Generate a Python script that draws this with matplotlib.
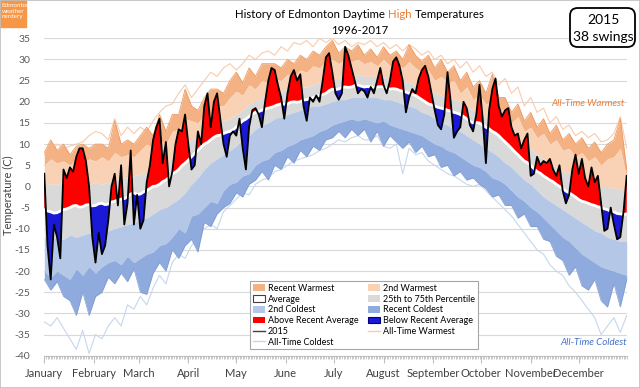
import numpy as np
import matplotlib.pyplot as plt
from matplotlib.patches import Patch, Rectangle, FancyBboxPatch
from matplotlib.lines import Line2D

plt.rcParams['font.family'] = ['Lato', 'DejaVu Sans']

# bands, read every 4th day of the year (day 1, 5, 9, ... 365)
days4 = np.arange(1, 366, 4)
rec_warm = [8, 11, 8.5, 10, 7.5, 9.5, 10, 9, 10,
            10, 9, 15.5, 10, 11, 10, 12, 14, 12, 17, 13, 17, 17,
            23,
            19, 18, 21, 23, 23, 22, 25, 27, 24.5, 28, 26, 29, 29, 29, 28, 30, 29, 31, 30, 32, 31, 33,
            34.5, 31.5, 33, 32, 33.5, 31, 32.5, 30.5, 33, 31, 32, 30, 33.5, 31, 29.5, 31, 28, 30, 27, 28.5, 25, 27, 23.5,
            25, 22, 26.5, 21, 21, 17.5, 19.5, 15.5, 17.5, 14, 16, 12.5, 14.5, 11, 12.5, 10, 11.5, 9, 10.5, 8, 10, 11, 16, 4]
warm2 = [5, 6.5, 5.5, 6, 5, 6.5, 5.5, 6.5, 6,
         7, 6, 8, 7, 7.5, 7, 8.5, 10, 9, 11, 10, 13, 13.5,
         16,
         15.5, 15, 17, 17, 19, 19, 21, 22.5, 21.5, 24, 23, 25, 24.5, 25.5, 25, 26.5, 26, 27.5, 27, 28.5, 28, 29.5,
         30, 29, 30, 29.5, 30, 29, 29.5, 28.5, 30, 28.5, 29, 28, 29.5, 28, 27, 27.5, 25, 26, 24.5, 25, 22, 23.5, 20.5,
         21.5, 19.5, 20, 17.5, 18.5, 15, 16.5, 13, 14, 11.5, 12.5, 10, 11, 8.5, 9, 7, 8, 6, 7, 5, 6.5, 7, 9, 2]
p75 = [1, 0.5, 0.5, 1, 0, 0.5, 0, 0.5, 1,
       0.5, 1, 1.5, 2, 2, 2.5, 3, 3, 4, 4.5, 5, 7, 8,
       9.5,
       11, 12, 13, 14, 15, 15.5, 16, 17, 18, 19.5, 20, 21, 21.5, 22, 22.5, 23, 23, 23.5, 23.5, 24, 24.5, 25,
       25.5, 25.5, 26, 26, 26.5, 26, 26, 26, 26, 25.5, 25.5, 25, 24.5, 24, 23.5, 23, 22, 21.5, 21, 20.5, 20, 19, 18,
       17.5, 16.5, 16, 15, 13.5, 12.5, 11, 10, 9, 7.5, 6.5, 5.5, 4.5, 3.5, 3, 2, 1.5, 1, 0.5, 0, 0, -0.5, -0.5, -1]
p25 = [-12, -12.5, -12, -12.5, -11.5, -12, -11.5, -11, -11,
       -10.5, -10.5, -10, -9.5, -9, -8.5, -8, -7.5, -6.5, -5.5, -5, -4, -3,
       -1.5,
       0.5, 2, 4, 5.5, 6.5, 7.5, 8.5, 9.5, 11, 12, 13.5, 14.5, 15, 16, 16.5, 17, 17.5, 18, 18.5, 19, 19, 19.5,
       20, 20.5, 20.5, 21, 21, 21, 21, 21, 20.5, 20.5, 20, 19.5, 19, 18.5, 17.5, 17, 16, 15, 14.5, 13.5, 13, 12, 11,
       10, 9, 8, 7, 5.5, 4.5, 3, 1.5, 0.5, -1, -2.5, -3.5, -4.5, -5.5, -6.5, -7.5, -8.5, -9.5, -10.5, -11, -12, -12.5, -13, -13]
cold2 = [-20, -21.5, -20, -21, -22, -19.5, -21, -19, -20.5,
         -19, -18, -17.5, -18.5, -16.5, -18, -17, -16, -15.5, -14, -13.5, -12, -10,
         -11,
         -7, -6.5, -5, -3.5, -4, -1, 0.5, 1, 2.5, 3, 5, 6, 6.5, 8, 8.5, 9.5, 10, 11, 11.5, 12, 13, 13.5,
         14.5, 15, 15.5, 16, 15.5, 16, 15.5, 15, 15.5, 14.5, 14, 13.5, 13, 12.5, 12, 11, 10, 9.5, 8.5, 8, 7, 6, 5,
         4.5, 3.5, 2, 1.5, 0.5, -1, -2.5, -3.5, -5, -6, -7.5, -9, -10.5, -12, -13, -14.5, -16, -17, -18, -19, -19.5, -20, -20.5, -21]
rec_cold = [-22, -24.5, -22.5, -26, -27, -30.5, -25, -30.5, -26,
            -25, -21.5, -23, -20.5, -22.5, -19.5, -25, -25.5, -20.5, -18, -20, -15, -17,
            -14,
            -12.5, -15.5, -8.5, -9.5, -6.5, -5, -4, -1.5, -2.5, 0.5, 1.5, 3.5, 1.5, 5, 4, 7, 5.5, 8.5, 7, 9.5, 8.5, 11,
            11.5, 13, 11.5, 13.5, 12, 13.5, 10.5, 13, 9.5, 12, 10.5, 9, 10.5, 8, 9.5, 7, 7.5, 4.5, 5, 2.5, 3.5, 1.5, 2,
            0.5, -0.5, -2.5, -2, -4.5, -4.5, -7.5, -6.5, -9.5, -9.5, -12.5, -13, -16.5, -17.5, -21, -19, -23.5, -24.5, -22, -27, -28.5, -23, -28.5, -22]
at_warm = [7.5, 8, 10, 9, 9.5, 10, 10.5, 12, 13,
           12.5, 11, 16, 12, 14, 12.5, 14, 13, 15.5, 17.5, 19, 19.5, 22,
           24,
           21, 23, 25, 27, 26, 28, 29, 27.5, 29, 31, 30, 31.5, 32, 31, 33, 32, 34, 33.5, 34.5, 33, 35, 34,
           35, 33.5, 34.5, 33, 34, 33.5, 34.5, 33, 34, 32.5, 33.5, 32, 33.5, 32.5, 31, 32, 30, 31, 29, 30, 28, 29.5, 27,
           28.5, 26, 27, 24, 25.5, 22, 23.5, 19, 21, 17.5, 18.5, 15, 16.5, 13.5, 14.5, 12, 13, 11.5, 12.5, 10.5, 11, 12.5, 16.5, 9]
at_cold = [-32, -33, -31, -33.5, -36, -38.5, -34, -39.5, -35,
           -36, -33, -31, -33, -28, -29, -26, -28, -24, -21, -23, -18, -16,
           -17,
           -14, -12, -10, -9, -10, -6, -4.5, -3, -1.5, -2, 0.5, 1.5, 2, 3.5, 4, 5, 6, 6.5, 7, 7.5, 8.5, 9,
           10, 11, 10.5, 11.5, 12, 11, 11, 12, 9.5, 9, 10, 3, 9, 7.5, 8, 6, 5, 4, 3, 2.5, 1.5, 0.5, 0,
           0.5, -1, -2.5, -4, -5.5, -7, -9, -11, -13, -15, -16, -18.5, -20, -21, -23.5, -25, -27, -29, -31, -35, -33, -31, -34.5, -30.5]

# average and 2015, read every 2nd day (day 1, 3, 5, ... 365)
days2 = np.arange(1, 366, 2)
avg = [-5.5, -5.8, -6, -6.3, -6.2, -5.8, -5.5, -5.3, -5, -4.6, -4.5, -4.9, -4.8, -4.4, -4.3,
       -4.6, -4.5, -4.1, -4, -4.3, -4.2, -3.7, -3.5, -3.2, -3, -2.9, -2.5, -1.8, -1.5, -1.9,
       -1.8, -1.3, -1, -0.5, 0, 0.1, 0.5, 1.1, 1.5, 2.1, 3, 3.4, 4, 4.9, 5.5,
       6.2, 7, 7.8, 8.5, 9.3, 10, 10.4, 11, 11.6, 12, 12.1, 12.5, 12.8, 13, 13.4,
       14, 14.8, 15.5, 15.9, 16.5, 17.1, 17.5, 17.7, 18, 18.3, 18.5, 18.7, 19, 19.3, 19.5,
       19.4, 19.5, 19.9, 20, 19.9, 20, 20.4, 20.5, 20.7, 21, 21.3, 21.5, 21.7, 22, 22.6,
       23, 22.9, 23, 23.4, 23.5, 23.4, 23.5, 23.8, 24, 23.7, 23.5, 23.6, 23.5, 23.4, 23.5,
       23.6, 23.5, 23.2, 23, 23.1, 23, 22.7, 22.5, 22.3, 22, 21.8, 21.5, 21, 20.5, 20,
       19.5, 19.3, 19, 18.7, 18.5, 18.3, 18, 17.8, 17.5, 17.3, 17, 16.5, 16, 15.4, 15,
       15.1, 15, 14.4, 14, 13.6, 13, 12.6, 12, 11.2, 10.5, 9.8, 9, 8.2, 7.5, 6.7,
       6, 5.6, 5, 4.2, 3.5, 3.1, 2.5, 2, 1.5, 1.1, 0.5, 0, -0.5, -1.1, -1.5,
       -2, -2.5, -3.1, -3.5, -3.7, -4, -4.3, -4.5, -4.8, -5, -5.3, -5.5, -5.9, -6, -6.4,
       -6.5, -6.6, -6.5]
y2015 = [3, -14, -22, -9, -12, -17, 4, 2, 4.5, 3.5, 7, 9, 9, 6, 0,
         -12, -18, -11, -16, -14, -8, 0, 3, -4.5, 5, -9, -4, 8.5, -9, -2,
         -10, -8, 1, 5, 11, 14, 16, 5.5, 10.5, 0, 3.5, 10, 13.5, 13, 17,
         10, 4, 5, 13, 10, 19, 22, 14, 20, 22, 16, 10, 7, 12, 13,
         12, 16, 9, 4, 14, 18, 18.5, 17, 14, 20, 25, 28, 27.5, 24, 21,
         16, 22, 26, 27.5, 25, 26.5, 19, 15.5, 21, 20, 21.5, 20, 25, 30.5, 31.5,
         27, 22, 20.5, 22, 33, 31, 28, 25, 22, 23, 22.5, 21, 23.5, 22, 25,
         28, 24, 22, 25, 29.5, 30.5, 28.5, 25, 17.5, 21, 23, 22, 25.5, 27.5, 28.5,
         26, 22, 18, 14.5, 13.5, 17, 27, 20, 11.5, 13, 14, 20, 18.5, 14.5, 13,
         17, 24, 16, 5.5, 18, 23, 25.5, 19, 16.5, 18, 18.5, 14, 12, 12.5, 9,
         11, 12.5, 2.5, 3, 7, 5, 6, 5.5, 6.5, 4, 2.5, 5, -1, -4, -2,
         4, 7.5, 3, 6.5, 2, 0, 4.5, 1, 2.5, -4, -10.5, -10, -5, -9, -12.5,
         -12, -6, 2.5]

months = ['January', 'February', 'March', 'April', 'May', 'June', 'July',
          'August', 'September', 'October', 'November', 'December']
month_start = [1, 32, 60, 91, 121, 152, 182, 213, 244, 274, 305, 335]
yticks = list(range(-40, 36, 5))

c_rwarm = '#F4B183'
c_warm2 = '#F9D2B6'
c_mid = '#D9D9D9'
c_cold2 = '#B4C7E7'
c_rcold = '#8FAADC'
c_red = '#FF0000'
c_blue = '#1A1AD6'
c_atwarm = '#F8CBAD'
c_atcold = '#C5D7EE'

fig = plt.figure(figsize=(6.4, 3.88), dpi=100)
ax = fig.add_axes([44.3 / 640, 32.3 / 388, 582.4 / 640, 317.4 / 388])

y2015 = np.array(y2015)
avg = np.array(avg)

ax.plot(days4, at_warm, color=c_atwarm, lw=0.8, zorder=1)
ax.plot(days4, at_cold, color=c_atcold, lw=0.8, zorder=1)

ax.fill_between(days4, warm2, rec_warm, color=c_rwarm, lw=0, zorder=2)
ax.plot(days4, rec_warm, color='#EE9A60', lw=0.6, zorder=2.1)
ax.fill_between(days4, p75, warm2, color=c_warm2, lw=0, zorder=2)
ax.fill_between(days4, p25, p75, color=c_mid, lw=0, zorder=2)
ax.fill_between(days4, cold2, p25, color=c_cold2, lw=0, zorder=2)
ax.fill_between(days4, rec_cold, cold2, color=c_rcold, lw=0, zorder=2)
ax.plot(days4, rec_cold, color='#7F9CD2', lw=0.5, zorder=2.1)

ax.fill_between(days2, avg, y2015, where=y2015 >= avg, interpolate=True,
                color=c_red, lw=0, zorder=3)
ax.fill_between(days2, avg, y2015, where=y2015 < avg, interpolate=True,
                color=c_blue, lw=0, zorder=3)
ax.plot(days2, avg, color='white', lw=2, zorder=4)
ax.plot(days2, y2015, color='black', lw=1.3, zorder=5)

ax.set_xlim(1, 365)
ax.set_ylim(-40, 35)
ax.set_yticks(yticks)
ax.set_yticklabels([str(v) for v in yticks])
ax.set_xticks(month_start)
ax.set_xticklabels(months)
ax.set_xticks(range(1, 366), minor=True)
ax.tick_params(axis='x', which='major', length=5, color='#BFBFBF',
               labelsize=8, labelcolor='#404040', pad=4)
ax.tick_params(axis='x', which='minor', length=2.5, color='#BFBFBF', width=0.6)
ax.tick_params(axis='y', length=0, labelsize=7.5, labelcolor='#595959', pad=10)
for s in ['left', 'right', 'top']:
    ax.spines[s].set_visible(False)
ax.spines['bottom'].set_color('#BFBFBF')
ax.yaxis.grid(True, color='#D9D9D9', lw=0.8)
ax.set_axisbelow(True)

fig.text(8 / 640, 1 - 195 / 388, 'Temperature (C)', rotation=90,
         ha='center', va='center', fontsize=8, color='#404040')

ax.text(364, 19.5, 'All-Time Warmest', color='#ED7D31', fontsize=7,
        style='italic', ha='right', va='center', zorder=6)
ax.text(365, -36.8, 'All-Time Coldest', color='#4472C4', fontsize=7,
        style='italic', ha='right', va='center', zorder=6)

# title with the orange "High"
r = fig.canvas.get_renderer()
parts = [('History of Edmonton Daytime', 'black'), ('High', '#ED7D31'),
         ('Temperatures', 'black')]
tt = [fig.text(0, 1 - 15 / 388, s, color=c, fontsize=8.2, va='center') for s, c in parts]
ws = [t.get_window_extent(r).width for t in tt]
gap = 3.0
x = 360 - (sum(ws) + 2 * gap) / 2
for t, w in zip(tt, ws):
    t.set_x(x / 640)
    x += w + gap
fig.text(360 / 640, 1 - 31 / 388, '1996-2017', ha='center', va='center',
         fontsize=8.2, color='black')

# badge boxes
fig.patches.append(Rectangle((0, 1 - 27 / 388), 26 / 640, 27 / 388,
                             transform=fig.transFigure, color='#F79646', zorder=0))
fig.text(1.5 / 640, 1 - 3 / 388, 'Edmonton\nweather\nnerdery', color='white',
         fontsize=4.5, va='top', ha='left', linespacing=1.15)

fig.patches.append(FancyBboxPatch((570 / 640, 1 - 47 / 388), 65 / 640, 39 / 388,
                                  boxstyle='round,pad=0,rounding_size=0.012',
                                  mutation_aspect=640 / 388,
                                  transform=fig.transFigure, facecolor='white',
                                  edgecolor='black', lw=1.3))
fig.text(603 / 640, 1 - 20 / 388, '2015', ha='center', va='center', fontsize=10)
fig.text(603 / 640, 1 - 37 / 388, '38 swings', ha='center', va='center', fontsize=10)

fig.patches.append(Rectangle((0, 0), 1, 1, transform=fig.transFigure,
                             fill=False, edgecolor='#BFBFBF', lw=1.2))

handles = [
    Patch(facecolor=c_rwarm, label='Recent Warmest'),
    Patch(facecolor='white', edgecolor='#404040', lw=0.8, label='Average'),
    Patch(facecolor=c_cold2, label='2nd Coldest'),
    Patch(facecolor=c_red, label='Above Recent Average'),
    Line2D([], [], color='#404040', lw=1, label='2015'),
    Line2D([], [], color=c_atcold, lw=1, label='All-Time Coldest'),
    Patch(facecolor=c_warm2, label='2nd Warmest'),
    Patch(facecolor=c_mid, label='25th to 75th Percentile'),
    Patch(facecolor=c_rcold, label='Recent Coldest'),
    Patch(facecolor=c_blue, edgecolor='#000080', lw=0.8, label='Below Recent Average'),
    Line2D([], [], color=c_atwarm, lw=1, label='All-Time Warmest'),
]
leg = fig.legend(handles=handles, ncol=2, loc='upper left',
                 bbox_to_anchor=(250 / 640, 1 - 281 / 388), fontsize=6.5,
                 frameon=True, fancybox=False, edgecolor='#A6A6A6',
                 framealpha=1, handlelength=1.4, handleheight=0.8,
                 labelspacing=0.2, columnspacing=1.0, borderpad=0.3,
                 handletextpad=0.3, borderaxespad=0)
leg.get_frame().set_linewidth(0.8)
leg.set_zorder(10)

fig.savefig('out.png', dpi=100)
